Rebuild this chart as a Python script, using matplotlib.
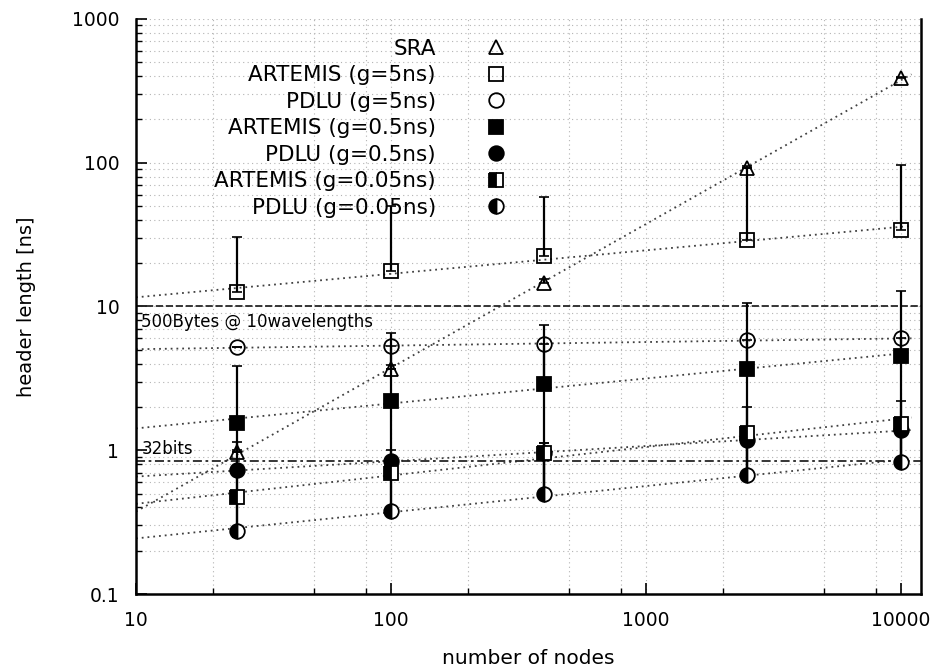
import matplotlib
matplotlib.use("Agg")
import matplotlib.pyplot as plt
import numpy as np
from matplotlib.ticker import FixedLocator, NullFormatter

plt.rcParams['font.family'] = ['DejaVu Sans']

nodes = np.array([25, 100, 400, 2500, 10000])

labels = ['SRA', 'ARTEMIS (g=5ns)', 'PDLU (g=5ns)', 'ARTEMIS (g=0.5ns)',
          'PDLU (g=0.5ns)', 'ARTEMIS (g=0.05ns)', 'PDLU (g=0.05ns)']

sra = [0.97, 3.65, 14.6, 92, 385]
sra_lo = [0.97, 3.65, 14.6, 92, 385]
sra_hi = [1.14, 3.9, 15.5, 95, 395]

artemis_5 = [12.5, 17.7, 22.4, 29, 34]
artemis_5_lo = [12.5, 17.7, 22.4, 29, 34]
artemis_5_hi = [30.5, 50, 58, 92, 97]

pdlu_5 = [5.2, 5.3, 5.5, 5.8, 6.0]
pdlu_5_lo = [5.2, 3.7, 2.9, 3.7, 4.5]
pdlu_5_hi = [5.2, 6.5, 7.4, 10.5, 12.8]

artemis_05 = [1.55, 2.2, 2.9, 3.7, 4.5]
artemis_05_lo = [1.0, 0.85, 0.95, 1.3, 1.5]
artemis_05_hi = [3.85, 5.3, 5.5, 5.8, 6.0]

pdlu_05 = [0.73, 0.84, 0.95, 1.18, 1.38]
pdlu_05_lo = [0.47, 0.69, 0.5, 0.67, 0.83]
pdlu_05_hi = [0.97, 1.0, 1.12, 1.45, 1.6]

artemis_005 = [0.47, 0.69, 0.95, 1.32, 1.53]
artemis_005_lo = [0.27, 0.38, 0.5, 0.67, 0.83]
artemis_005_hi = [0.73, 0.84, 1.12, 2.0, 2.2]

pdlu_005 = [0.275, 0.38, 0.5, 0.67, 0.83]
pdlu_005_lo = [0.25, 0.35, 0.47, 0.62, 0.78]
pdlu_005_hi = [0.47, 0.69, 0.95, 1.18, 1.38]

series = [
    (sra, sra_lo, sra_hi, dict(marker='^', mfc='none')),
    (artemis_5, artemis_5_lo, artemis_5_hi, dict(marker='s', mfc='none')),
    (pdlu_5, pdlu_5_lo, pdlu_5_hi, dict(marker='o', mfc='none')),
    (artemis_05, artemis_05_lo, artemis_05_hi, dict(marker='s', mfc='black')),
    (pdlu_05, pdlu_05_lo, pdlu_05_hi, dict(marker='o', mfc='black')),
    (artemis_005, artemis_005_lo, artemis_005_hi,
     dict(marker='s', mfc='black', fillstyle='left', markerfacecoloralt='white')),
    (pdlu_005, pdlu_005_lo, pdlu_005_hi,
     dict(marker='o', mfc='black', fillstyle='left', markerfacecoloralt='white')),
]

# reference header lengths
ref_500bytes = 10.0
ref_32bits = 0.84

fig = plt.figure(figsize=(9.38, 6.72), dpi=100)
ax = fig.add_axes([0.145, 0.116, 0.837, 0.856])
ax.set_xscale('log')
ax.set_yscale('log')

xfit = np.geomspace(10, 11000, 60)
handles = []
for vals, lo, hi, style in series:
    vals = np.array(vals)
    yerr = [vals - np.array(lo), np.array(hi) - vals]
    # power-law fit through the points
    p = np.polyfit(np.log10(nodes), np.log10(vals), 1)
    ax.plot(xfit, 10 ** np.polyval(p, np.log10(xfit)), color='0.25',
            linestyle=(0, (1, 2.2)), lw=1.3, zorder=2)
    ax.errorbar(nodes, vals, yerr=yerr, fmt='none', ecolor='black',
                elinewidth=1.6, capsize=3.5, capthick=1.2, zorder=3)
    h, = ax.plot(nodes, vals, linestyle='none', color='black', ms=10.5,
                 mew=1.3, zorder=4, **style)
    handles.append(h)

ax.axhline(ref_500bytes, color='0.15', linestyle=(0, (4, 1.5)), lw=1.3, zorder=2)
ax.axhline(ref_32bits, color='0.15', linestyle=(0, (5, 2, 1.5, 2)), lw=1.3, zorder=2)
ax.text(10.5, ref_500bytes * 0.9, '500Bytes @ 10wavelengths', fontsize=12,
        va='top', ha='left')
ax.text(10.5, ref_32bits * 1.05, '32bits', fontsize=12, va='bottom', ha='left')

ax.set_xlim(10, 12000)
ax.set_ylim(0.1, 1000)
ax.set_xticks([10, 100, 1000, 10000])
ax.set_xticklabels(['10', '100', '1000', '10000'])
ax.xaxis.set_minor_locator(FixedLocator([20, 50, 80, 200, 500, 800,
                                         2000, 5000, 8000]))
ax.xaxis.set_minor_formatter(NullFormatter())
ax.set_yticks([0.1, 1, 10, 100, 1000])
ax.set_yticklabels(['0.1', '1', '10', '100', '1000'])
ax.yaxis.set_minor_formatter(NullFormatter())

ax.tick_params(which='both', direction='in', labelsize=13.5, pad=12)
ax.tick_params(which='major', length=8, width=1.2)
ax.tick_params(which='minor', length=4, width=1)
ax.grid(True, which='both', color='0.7', linestyle=(0, (1, 3)), lw=0.8)

ax.spines['top'].set_visible(False)
for side in ['left', 'bottom', 'right']:
    ax.spines[side].set_linewidth(1.8)

ax.set_xlabel('number of nodes', fontsize=14.5, labelpad=14)
ax.set_ylabel('header length [ns]', fontsize=14, labelpad=26)

leg = ax.legend(handles, labels, loc='upper right', markerfirst=False,
                frameon=False, fontsize=15.5, handlelength=1.0,
                handletextpad=2.3, labelspacing=0.3, borderpad=0,
                borderaxespad=0, bbox_to_anchor=(507 / 938, 1 - 39 / 672),
                bbox_transform=fig.transFigure)
for col in leg._legend_handle_box.get_children():
    col.align = 'right'

fig.savefig('out.png', dpi=100)
